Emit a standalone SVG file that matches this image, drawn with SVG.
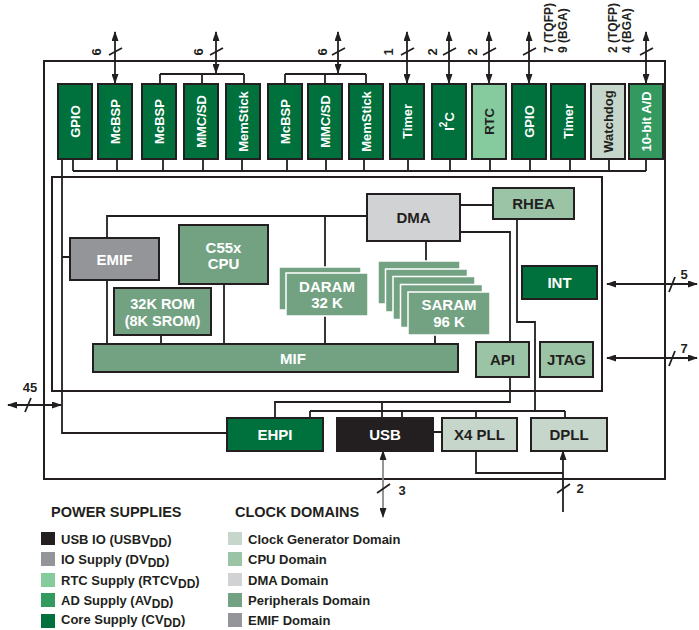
<svg xmlns="http://www.w3.org/2000/svg" width="699" height="630" viewBox="0 0 699 630">
<style>
text{font-family:"Liberation Sans",Arial,sans-serif;font-weight:bold}
.b{stroke:#231f20;stroke-width:2}
.core{fill:#00703c}
.ad{fill:#33995f}
.rtc{fill:#85cb9d}
.usb{fill:#231f20}
.io{fill:#939598}
.clk{fill:#c6d6cb}
.cpu{fill:#9bc4a7}
.dma{fill:#d1d2d4}
.per{fill:#73a283}
.stk{fill:#73a283;stroke:#fff;stroke-width:1.5}
.w{fill:#fff}
.k{fill:#231f20}
.m{font-size:13px;text-anchor:middle;dominant-baseline:central}
.t{font-size:15px;text-anchor:middle}
.n{font-size:13px;fill:#231f20}
.ln{fill:none;stroke:#231f20;stroke-width:1.8}
.ar{fill:none;stroke:#231f20;stroke-width:1.8;marker-start:url(#ah);marker-end:url(#ah)}
.lg{font-size:13px;fill:#231f20}
.hd{font-size:14.5px;fill:#231f20}
</style>
<defs>
<marker id="ah" viewBox="0 0 10 7" refX="9" refY="3.5" markerWidth="10" markerHeight="7" markerUnits="userSpaceOnUse" orient="auto-start-reverse"><path d="M0,0L10,3.5L0,7z" fill="#231f20"/></marker>
</defs>

<rect x="44" y="61" width="621" height="418" fill="none" class="b"/>
<rect x="52" y="177" width="550" height="214" fill="none" class="b"/>

<g id="connectors">
<path class="ln" d="M73,171H646M73,159V171M117,159V171M163,159V171M203,159V171M242,159V171M287,159V171M326,159V171M364,159V171M408,159V171M450,159V171M490,159V171M530,159V171M570,159V171M609,159V171M646,159V171"/>
<path class="ln" d="M160,74H244M160,74V84M202,74V84M244,74V84M285,74H366M285,74V84M325,74V84M366,74V84"/>
<path class="ln" d="M62,159V433H227M62,257H70"/>
<path class="ln" d="M107,238V216H367M325,216V267M107,280V344M161,335V344M224,284V344M325,316V344M426,241V261M435,335V344M460,205H493"/>
<path class="ln" d="M460,232H510V342M510,377V402H275V418M382,402V418"/>
<path class="ln" d="M517,219V322H535V411M310,411H565M310,411V418M402,411V418M476,411V418M565,411V418"/>
<path class="ln" d="M433,432H442M476,451V473H563"/>
<line class="ar" x1="115" y1="32" x2="115" y2="83"/>
<line class="ar" x1="216" y1="32" x2="216" y2="73"/>
<line class="ar" x1="338" y1="32" x2="338" y2="73"/>
<line class="ar" x1="407" y1="32" x2="407" y2="83"/>
<line class="ar" x1="449" y1="32" x2="449" y2="83"/>
<line class="ar" x1="489" y1="32" x2="489" y2="83"/>
<line class="ar" x1="529" y1="32" x2="529" y2="83"/>
<line class="ar" x1="646" y1="32" x2="646" y2="83"/>
<path class="ln" d="M109,55L122,48M210,55L223,48M332,55L345,48M401,55L414,48M443,55L456,48M483,55L496,48M523,55L536,48M640,55L653,48"/>
<line class="ar" x1="8" y1="405" x2="61" y2="405"/>
<path class="ln" d="M25,412L31,398"/>
<line class="ar" x1="607" y1="284" x2="697" y2="284"/>
<path class="ln" d="M669,292L675,277"/>
<line class="ar" x1="607" y1="358" x2="697" y2="358"/>
<path class="ln" d="M669,366L675,351"/>
<line x1="383" y1="517" x2="383" y2="451" stroke="#8a8b8e" stroke-width="1.8" marker-start="url(#ah)" marker-end="url(#ah)"/>
<path class="ln" d="M377,493L390,484"/>
<line x1="563" y1="512" x2="563" y2="451" class="ln" marker-end="url(#ah)"/>
<path class="ln" d="M557,493L570,484"/>
</g>

<g id="pinlabels">
<text class="n" transform="translate(96,52) rotate(-90)" text-anchor="middle" dominant-baseline="central">6</text>
<text class="n" transform="translate(198,52) rotate(-90)" text-anchor="middle" dominant-baseline="central">6</text>
<text class="n" transform="translate(322,52) rotate(-90)" text-anchor="middle" dominant-baseline="central">6</text>
<text class="n" transform="translate(388,52) rotate(-90)" text-anchor="middle" dominant-baseline="central">1</text>
<text class="n" transform="translate(432,52) rotate(-90)" text-anchor="middle" dominant-baseline="central">2</text>
<text class="n" transform="translate(472,52) rotate(-90)" text-anchor="middle" dominant-baseline="central">2</text>
<text class="n" style="font-size:12px" transform="translate(549,53) rotate(-90)" dominant-baseline="central">7 (TQFP)</text>
<text class="n" style="font-size:12px" transform="translate(563,53) rotate(-90)" dominant-baseline="central">9 (BGA)</text>
<text class="n" style="font-size:12px" transform="translate(613,53) rotate(-90)" dominant-baseline="central">2 (TQFP)</text>
<text class="n" style="font-size:12px" transform="translate(627,53) rotate(-90)" dominant-baseline="central">4 (BGA)</text>
<text class="n" x="30" y="392" text-anchor="middle">45</text>
<text class="n" x="684" y="279" text-anchor="middle">5</text>
<text class="n" x="684" y="353" text-anchor="middle">7</text>
<text class="n" x="402" y="495" text-anchor="middle">3</text>
<text class="n" x="580" y="493" text-anchor="middle">2</text>
</g>

<g id="gpio1"><rect x="58" y="84" width="34" height="75" class="b core"/><text class="m w" transform="translate(75,121.5) rotate(-90)">GPIO</text></g>
<g id="mcbsp1"><rect x="98" y="84" width="34" height="75" class="b core"/><text class="m w" transform="translate(115,121.5) rotate(-90)">McBSP</text></g>
<g id="mcbsp2"><rect x="142" y="84" width="34" height="75" class="b core"/><text class="m w" transform="translate(159,121.5) rotate(-90)">McBSP</text></g>
<g id="mmcsd1"><rect x="184" y="84" width="34" height="75" class="b core"/><text class="m w" transform="translate(201,121.5) rotate(-90)">MMC/SD</text></g>
<g id="memstick1"><rect x="226" y="84" width="34" height="75" class="b core"/><text class="m w" transform="translate(243,121.5) rotate(-90)">MemStick</text></g>
<g id="mcbsp3"><rect x="268" y="84" width="34" height="75" class="b core"/><text class="m w" transform="translate(285,121.5) rotate(-90)">McBSP</text></g>
<g id="mmcsd2"><rect x="308" y="84" width="34" height="75" class="b core"/><text class="m w" transform="translate(325,121.5) rotate(-90)">MMC/SD</text></g>
<g id="memstick2"><rect x="349" y="84" width="34" height="75" class="b core"/><text class="m w" transform="translate(366,121.5) rotate(-90)">MemStick</text></g>
<g id="timer1"><rect x="390" y="84" width="34" height="75" class="b core"/><text class="m w" transform="translate(407,121.5) rotate(-90)">Timer</text></g>
<g id="i2c"><rect x="432" y="84" width="34" height="75" class="b core"/><text class="m w" transform="translate(449,121.5) rotate(-90)">I<tspan baseline-shift="super" font-size="10">2</tspan>C</text></g>
<g id="rtc"><rect x="472" y="84" width="34" height="75" class="b rtc"/><text class="m k" transform="translate(489,121.5) rotate(-90)">RTC</text></g>
<g id="gpio2"><rect x="512" y="84" width="34" height="75" class="b core"/><text class="m w" transform="translate(529,121.5) rotate(-90)">GPIO</text></g>
<g id="timer2"><rect x="551" y="84" width="34" height="75" class="b core"/><text class="m w" transform="translate(568,121.5) rotate(-90)">Timer</text></g>
<g id="watchdog"><rect x="591" y="84" width="34" height="75" class="b clk"/><text class="m k" transform="translate(608,121.5) rotate(-90)">Watchdog</text></g>
<g id="adc"><rect x="629" y="84" width="34" height="75" class="b ad"/><text class="m w" transform="translate(646,121.5) rotate(-90)">10-bit A/D</text></g>

<g id="dma"><rect x="367" y="194" width="93" height="47" class="b dma"/><text class="t k" x="413.5" y="223">DMA</text></g>
<g id="rhea"><rect x="493" y="188" width="81" height="31" class="b cpu"/><text class="t k" x="533.5" y="209">RHEA</text></g>
<g id="int"><rect x="522" y="266" width="75" height="33" class="b core"/><text class="t w" x="559.5" y="288">INT</text></g>
<g id="api"><rect x="476" y="342" width="53" height="35" class="b cpu"/><text class="t k" x="502.5" y="365">API</text></g>
<g id="jtag"><rect x="540" y="342" width="53" height="35" class="b cpu"/><text class="t k" x="566.5" y="365">JTAG</text></g>
<g id="emif"><rect x="70" y="238" width="89" height="42" class="b io"/><text class="t w" x="114.5" y="264.5">EMIF</text></g>
<g id="cpu"><rect x="179" y="225" width="89" height="59" class="b per"/><text class="t w" x="223.5" y="253">C55x</text><text class="t w" x="223.5" y="269">CPU</text></g>
<g id="rom"><rect x="114" y="288" width="97" height="47" class="b per"/><text class="t w" style="font-size:14.5px" x="162.5" y="309">32K ROM</text><text class="t w" style="font-size:14.5px" x="162.5" y="325.5">(8K SROM)</text></g>
<g id="daram"><rect x="279" y="267" width="82" height="43" class="stk"/><rect x="286" y="273" width="82" height="43" class="stk"/><text class="t w" x="327" y="292">DARAM</text><text class="t w" x="327" y="308">32 K</text></g>
<g id="saram"><rect x="378" y="261" width="82" height="43" class="stk"/><rect x="385.5" y="269" width="82" height="43" class="stk"/><rect x="393" y="276.5" width="82" height="43" class="stk"/><rect x="400.5" y="284.5" width="82" height="43" class="stk"/><rect x="408" y="292" width="82" height="43" class="stk"/><text class="t w" x="449" y="310">SARAM</text><text class="t w" x="449" y="327">96 K</text></g>
<g id="mif"><rect x="93" y="344" width="365" height="28" class="b per"/><text class="t w" x="293" y="363.5">MIF</text></g>
<g id="ehpi"><rect x="227" y="418" width="96" height="33" class="b core"/><text class="t w" x="275" y="440">EHPI</text></g>
<g id="usb"><rect x="337" y="418" width="96" height="33" class="b usb"/><text class="t w" x="385" y="440">USB</text></g>
<g id="x4pll"><rect x="442" y="418" width="75" height="33" class="b clk"/><text class="t k" x="479.5" y="440">X4 PLL</text></g>
<g id="dpll"><rect x="531" y="418" width="76" height="33" class="b clk"/><text class="t k" x="569" y="440">DPLL</text></g>

<g id="legend">
<text class="hd" x="51" y="517">POWER SUPPLIES</text>
<text class="hd" x="235" y="517">CLOCK DOMAINS</text>
<rect x="41" y="532" width="14" height="13" class="usb"/>
<rect x="41" y="552" width="14" height="14" class="io"/>
<rect x="41" y="573" width="14" height="14" class="rtc"/>
<rect x="41" y="593" width="14" height="14" class="ad"/>
<rect x="41" y="614" width="14" height="14" class="core"/>
<text class="lg" x="61" y="544">USB IO (USBV<tspan font-size="12" dy="2.5">DD</tspan><tspan dy="-2.5">)</tspan></text>
<text class="lg" x="61" y="564">IO Supply (DV<tspan font-size="12" dy="2.5">DD</tspan><tspan dy="-2.5">)</tspan></text>
<text class="lg" x="61" y="585">RTC Supply (RTCV<tspan font-size="12" dy="2.5">DD</tspan><tspan dy="-2.5">)</tspan></text>
<text class="lg" x="61" y="605">AD Supply (AV<tspan font-size="12" dy="2.5">DD</tspan><tspan dy="-2.5">)</tspan></text>
<text class="lg" x="61" y="624">Core Supply (CV<tspan font-size="12" dy="2.5">DD</tspan><tspan dy="-2.5">)</tspan></text>
<rect x="228" y="532" width="14" height="13" class="clk"/>
<rect x="228" y="552" width="14" height="14" class="cpu"/>
<rect x="228" y="573" width="14" height="13" class="dma"/>
<rect x="228" y="593" width="14" height="14" class="per"/>
<rect x="228" y="613" width="14" height="14" class="io"/>
<text class="lg" x="248" y="544">Clock Generator Domain</text>
<text class="lg" x="248" y="564">CPU Domain</text>
<text class="lg" x="248" y="585">DMA Domain</text>
<text class="lg" x="248" y="605">Peripherals Domain</text>
<text class="lg" x="248" y="625">EMIF Domain</text>
</g>
</svg>
